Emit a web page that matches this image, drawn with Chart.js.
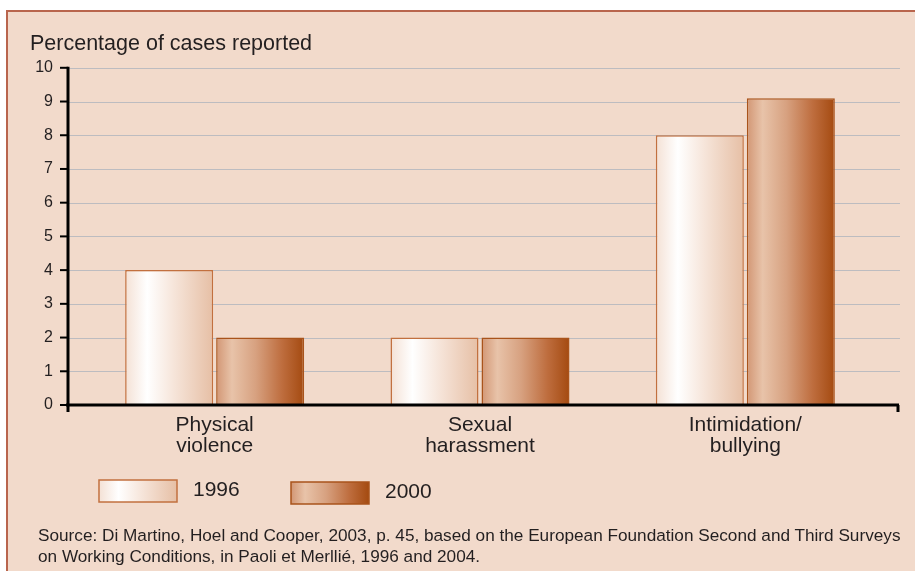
<!DOCTYPE html>
<html>
<head>
<meta charset="utf-8">
<script src="https://cdn.jsdelivr.net/npm/chart.js@4/dist/chart.umd.min.js"></script>
<style>
  html, body { margin: 0; padding: 0; background: #fff; overflow: hidden; }
  #frame {
    position: absolute; left: 6px; top: 10px; width: 1000px; height: 700px;
    background: #f2dacb; border-left: 2px solid #b9654d; border-top: 2px solid #b9654d;
  }
  #wrap { position: absolute; left: 0; top: 0; width: 915px; height: 571px; }
  #source {
    position: absolute; left: 38px; top: 525px; width: 890px;
    font: 17.2px "Liberation Sans", Arial, sans-serif; line-height: 21px; color: #231f20;
    white-space: nowrap;
  }
</style>
</head>
<body>
<div id="frame"></div>
<div id="wrap"><canvas id="chart" width="915" height="571"></canvas></div>
<div id="source">Source: Di Martino, Hoel and Cooper, 2003, p. 45, based on the European Foundation Second and Third Surveys<br>on Working Conditions, in Paoli et Merllié, 1996 and 2004.</div>

<script>
// data
const categories = [['Physical', 'violence'], ['Sexual', 'harassment'], ['Intimidation/', 'bullying']];
const years = ['1996', '2000'];
const values1996 = [4, 2, 8];
const values2000 = [2, 2, 9.1];
const yTicks = [0, 1, 2, 3, 4, 5, 6, 7, 8, 9, 10];

// styles
const FONT = '"Liberation Sans", Arial, sans-serif';
const INK = '#231f20';
const CAT_PCT = 0.686;
const BAR_PCT = 0.967;
const gradStops = [
  [[0, '#f4e1d5'], [0.25, '#ffffff'], [0.55, '#f6e5da'], [1, '#e6bfa5']],
  [[0, '#d29674'], [0.18, '#e8c3a9'], [0.45, '#d7a180'], [0.75, '#be6d3e'], [1, '#a44a10']]
];
const borderCols = ['#c2703f', '#a9531b'];

function makeGrad(ctx, x0, x1, stops) {
  const g = ctx.createLinearGradient(x0, 0, x1, 0);
  stops.forEach(s => g.addColorStop(s[0], s[1]));
  return g;
}

function barFill(c, d) {
  const xs = c.chart.scales.x;
  if (c.type !== 'data' || !xs || !xs.width) return gradStops[d][1][1];
  const catW = xs.width / categories.length;
  const chunk = catW * CAT_PCT / 2;
  const center = xs.getPixelForValue(c.dataIndex) - catW * CAT_PCT / 2 + chunk * (d + 0.5);
  const size = chunk * BAR_PCT;
  return makeGrad(c.chart.ctx, center - size / 2, center + size / 2, gradStops[d]);
}

// gridlines, axes and legend drawn past the chart area like the original
const framePlugin = {
  id: 'framePlugin',
  beforeDatasetsDraw(chart) {
    const ctx = chart.ctx, y = chart.scales.y;
    ctx.save();
    ctx.strokeStyle = '#bdbcc0';
    ctx.lineWidth = 1.2;
    yTicks.slice(1).forEach(v => {
      const py = Math.round(y.getPixelForValue(v)) + 0.5;
      ctx.beginPath(); ctx.moveTo(68, py); ctx.lineTo(900, py); ctx.stroke();
    });
    ctx.restore();
  },
  afterDatasetsDraw(chart) {
    const ctx = chart.ctx, y = chart.scales.y;
    const y0 = y.getPixelForValue(0), y10 = y.getPixelForValue(10);
    ctx.save();
    ctx.strokeStyle = '#000';
    ctx.lineWidth = 3;
    ctx.beginPath(); ctx.moveTo(68, y10 - 1); ctx.lineTo(68, y0 + 7); ctx.stroke();
    ctx.beginPath(); ctx.moveTo(66, y0); ctx.lineTo(899, y0); ctx.stroke();
    ctx.beginPath(); ctx.moveTo(898, y0); ctx.lineTo(898, y0 + 7); ctx.stroke();
    ctx.lineWidth = 2;
    yTicks.forEach(v => {
      const py = y.getPixelForValue(v);
      ctx.beginPath(); ctx.moveTo(60, py); ctx.lineTo(68, py); ctx.stroke();
    });
    ctx.restore();
  },
  afterDraw(chart) {
    const ctx = chart.ctx;
    const items = [{ x: 99, y: 480 }, { x: 291, y: 482 }];
    ctx.save();
    items.forEach((it, i) => {
      ctx.fillStyle = makeGrad(ctx, it.x, it.x + 78, gradStops[i]);
      ctx.fillRect(it.x, it.y, 78, 22);
      ctx.strokeStyle = borderCols[i];
      ctx.lineWidth = 1.5;
      ctx.strokeRect(it.x, it.y, 78, 22);
      ctx.fillStyle = INK;
      ctx.font = '21px ' + FONT;
      ctx.textBaseline = 'middle';
      ctx.fillText(years[i], it.x + 94, it.y + 10);
    });
    ctx.restore();
  }
};

new Chart(document.getElementById('chart'), {
  type: 'bar',
  data: {
    labels: categories,
    datasets: [
      {
        label: years[0], data: values1996,
        backgroundColor: c => barFill(c, 0),
        borderColor: borderCols[0], borderWidth: 1.5
      },
      {
        label: years[1], data: values2000,
        backgroundColor: c => barFill(c, 1),
        borderColor: borderCols[1], borderWidth: 1.5
      }
    ]
  },
  options: {
    responsive: false,
    animation: false,
    categoryPercentage: CAT_PCT,
    barPercentage: BAR_PCT,
    layout: { padding: { left: 30, right: 37, top: 0, bottom: 106 } },
    plugins: {
      legend: { display: false },
      tooltip: { enabled: false },
      title: {
        display: true, text: 'Percentage of cases reported', align: 'start',
        color: INK, font: { family: FONT, size: 21.5, weight: 'normal', lineHeight: 1.2 },
        padding: { top: 31, bottom: 11 }
      }
    },
    scales: {
      x: {
        grid: { display: false, drawTicks: false },
        border: { display: false },
        ticks: { color: INK, padding: 10, font: { family: FONT, size: 21, lineHeight: 0.98 } },
        afterFit: s => { s.height = 60; }
      },
      y: {
        min: 0, max: 10,
        grid: { display: false, drawTicks: false },
        border: { display: false },
        ticks: { stepSize: 1, color: INK, padding: 29, font: { family: FONT, size: 16 } },
        afterFit: s => { s.width = 52; }
      }
    }
  },
  plugins: [framePlugin]
});
</script>
</body>
</html>
